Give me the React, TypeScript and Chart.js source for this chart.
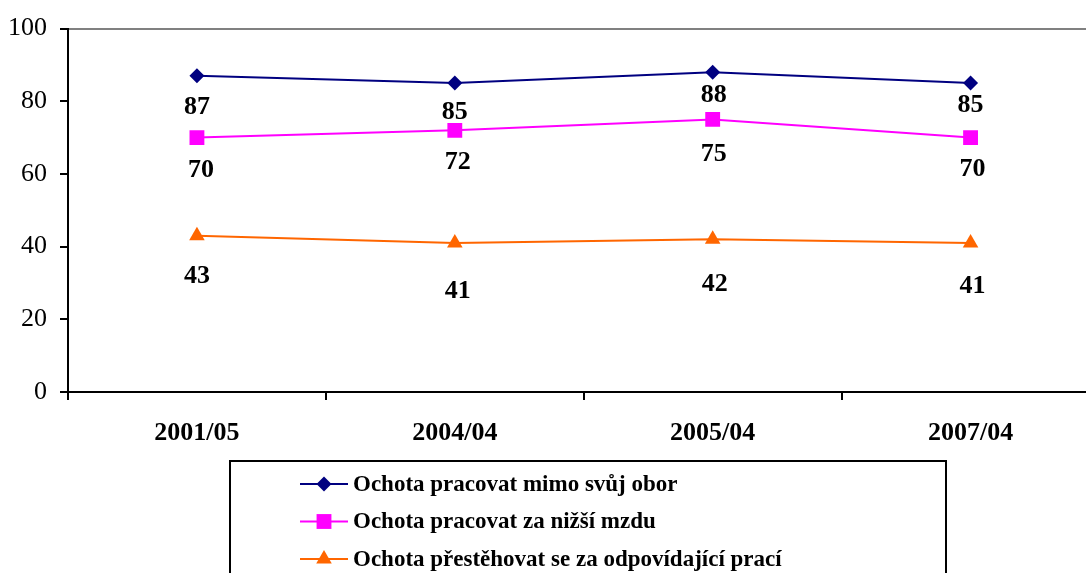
import React, { useEffect, useRef } from "react";
import { Chart, registerables } from "chart.js";

Chart.register(...registerables);

const categories = ["2001/05", "2004/04", "2005/04", "2007/04"];
const seriesNames = [
  "Ochota pracovat mimo svůj obor",
  "Ochota pracovat za nižší mzdu",
  "Ochota přestěhovat se za odpovídající prací",
];
const mimoOborValues = [87, 85, 88, 85];
const nizsiMzdaValues = [70, 72, 75, 70];
const prestehovatValues = [43, 41, 42, 41];
const yTicks = [0, 20, 40, 60, 80, 100];

const colors = ["#000080", "#FF00FF", "#FF6600"];
const markers = ["rectRot", "rect", "triangle"];
const markerRadius = [7.5, 10.5, 9];
// label offsets (layout only): [dx, dy] per point
const labelOffsets = [
  [[0, 31], [0, 29], [1, 23], [0, 22]],
  [[4, 33], [3, 32], [1, 35], [2, 32]],
  [[0, 41], [3, 48], [2, 45], [2, 43]],
];

const FONT = "'Liberation Serif', 'Times New Roman', serif";

function drawMarker(ctx: CanvasRenderingContext2D, style: string, x: number, y: number, r: number, color: string) {
  ctx.save();
  ctx.fillStyle = color;
  ctx.beginPath();
  if (style === "rectRot") {
    ctx.moveTo(x - r, y);
    ctx.lineTo(x, y - r);
    ctx.lineTo(x + r, y);
    ctx.lineTo(x, y + r);
  } else if (style === "rect") {
    const s = Math.SQRT1_2 * r;
    ctx.rect(x - s, y - s, 2 * s, 2 * s);
  } else {
    ctx.moveTo(x, y - r);
    ctx.lineTo(x + r * 0.866, y + r * 0.5);
    ctx.lineTo(x - r * 0.866, y + r * 0.5);
  }
  ctx.closePath();
  ctx.fill();
  ctx.restore();
}

const labelPlugin = {
  id: "valueLabels",
  afterDatasetsDraw(chart: any) {
    const ctx = chart.ctx;
    ctx.save();
    ctx.font = `bold 26px ${FONT}`;
    ctx.fillStyle = "#000";
    ctx.textAlign = "center";
    ctx.textBaseline = "middle";
    chart.data.datasets.forEach((ds: any, di: number) => {
      const meta = chart.getDatasetMeta(di);
      meta.data.forEach((pt: any, i: number) => {
        const [dx, dy] = labelOffsets[di][i];
        ctx.fillText(String(ds.data[i]), pt.x + dx, pt.y + dy);
      });
    });
    ctx.restore();
  },
};

const legendPlugin = {
  id: "boxLegend",
  afterDraw(chart: any) {
    const ctx = chart.ctx;
    const boxX = 230, boxY = 461, boxW = 716, boxH = 140;
    ctx.save();
    ctx.strokeStyle = "#000";
    ctx.lineWidth = 2;
    ctx.strokeRect(boxX, boxY, boxW, boxH);
    ctx.font = `bold 23px ${FONT}`;
    ctx.textAlign = "left";
    ctx.textBaseline = "middle";
    chart.data.datasets.forEach((ds: any, di: number) => {
      const y = 484 + di * 37.5;
      ctx.strokeStyle = ds.borderColor;
      ctx.lineWidth = 2;
      ctx.beginPath();
      ctx.moveTo(300, y);
      ctx.lineTo(348, y);
      ctx.stroke();
      drawMarker(ctx, markers[di], 324, y, markerRadius[di], ds.borderColor);
      ctx.fillStyle = "#000";
      ctx.fillText(ds.label, 353, y + 1);
    });
    ctx.restore();
  },
};

export default function App() {
  const ref = useRef<HTMLCanvasElement>(null);
  useEffect(() => {
    if (!ref.current) return;
    const values = [mimoOborValues, nizsiMzdaValues, prestehovatValues];
    const chart = new Chart(ref.current, {
      type: "line",
      data: {
        labels: categories,
        datasets: values.map((v, i) => ({
          label: seriesNames[i],
          data: v,
          borderColor: colors[i],
          backgroundColor: colors[i],
          borderWidth: 2,
          pointStyle: markers[i] as any,
          pointRadius: markerRadius[i],
          pointBorderWidth: 0,
          pointBackgroundColor: colors[i],
          tension: 0,
        })),
      },
      options: {
        responsive: false,
        animation: false,
        devicePixelRatio: 1,
        layout: { padding: { top: 26, right: 10, left: 0, bottom: 0 } },
        plugins: { legend: { display: false }, tooltip: { enabled: false } },
        scales: {
          x: {
            offset: true,
            grid: {
              offset: true,
              drawOnChartArea: false,
              drawTicks: true,
              tickLength: 8,
              color: "#000",
              lineWidth: 2,
            },
            border: { color: "#000", width: 2 },
            ticks: {
              color: "#000",
              padding: 18,
              font: { family: FONT, size: 26, weight: "bold" },
              maxRotation: 0,
            },
            afterFit(scale: any) {
              scale.height = 181;
            },
          },
          y: {
            min: 0,
            max: 100,
            afterBuildTicks(scale: any) {
              scale.ticks = yTicks.map((v) => ({ value: v }));
            },
            grid: {
              color: (c: any) => (c.tick && c.tick.value === 100 ? "#808080" : "rgba(0,0,0,0)"),
              tickColor: "#000",
              lineWidth: 2,
              tickLength: 8,
            },
            border: { color: "#000", width: 2 },
            ticks: {
              color: "#000",
              padding: 13,
              font: { family: FONT, size: 26 },
            },
            afterFit(scale: any) {
              scale.width = 68;
            },
          },
        },
      },
      plugins: [labelPlugin, legendPlugin],
    });
    return () => chart.destroy();
  }, []);
  return (
    <div style={{ position: "absolute", left: 0, top: 0, width: 1086, height: 573, overflow: "hidden", background: "#fff" }}>
      <canvas ref={ref} width={1110} height={573} style={{ width: 1110, height: 573, display: "block" }} />
    </div>
  );
}
